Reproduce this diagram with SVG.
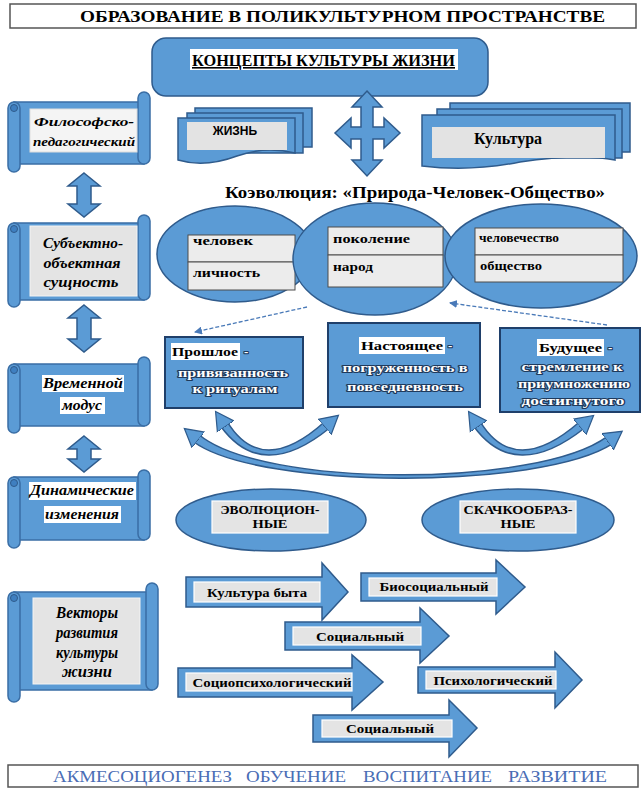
<svg xmlns="http://www.w3.org/2000/svg" width="642" height="789" viewBox="0 0 642 789">
<style>
.b{fill:#5b9bd5;stroke:#2f5b8c;stroke-width:1.5}
.bx{fill:#5b9bd5;stroke:#1f3f6a;stroke-width:2}
.sc{fill:#5b9bd5;stroke:#3a6ea5;stroke-width:1.5}
.cu{fill:#3f7fc0;stroke:#2f5b8c;stroke-width:1}
.t{font-family:"Liberation Serif","DejaVu Serif",serif;font-weight:bold;fill:#000}
.it{font-family:"Liberation Serif","DejaVu Serif",serif;font-weight:bold;font-style:italic;fill:#000}
.sn{font-family:"Liberation Sans","DejaVu Sans",sans-serif;font-weight:bold;fill:#000}
.bt{font-family:"Liberation Serif","DejaVu Serif",serif;fill:#4a6db5}
.lbl{fill:#e4e4e4;stroke:#ffffff;stroke-width:1.2}
.hl{fill:#ffffff}
.cell{fill:#ececec;stroke:#4d4d4d;stroke-width:1}
.w{fill:#ffffff;stroke:#1f3a5c;stroke-width:2.2;paint-order:stroke;stroke-linejoin:round}
.frame{fill:#ffffff;stroke:#555555;stroke-width:1.5}
</style>
<defs>
<marker id="ah" viewBox="0 0 20 22" refX="3" refY="11" markerWidth="20" markerHeight="22" markerUnits="userSpaceOnUse" orient="auto-start-reverse"><path d="M0,1 L18,11 L0,21 Z" fill="#5b9bd5" stroke="#2f5b8c" stroke-width="1.2"/></marker>
<marker id="sm" viewBox="0 0 8 8" refX="7" refY="4" markerWidth="8" markerHeight="8" markerUnits="userSpaceOnUse" orient="auto"><path d="M0,0 L8,4 L0,8 Z" fill="#4a7ab8"/></marker>
</defs>
<rect width="642" height="789" fill="#ffffff"/>

<g id="title">
<rect class="frame" x="10" y="4" width="626" height="24"/>
<text class="t" x="80" y="22" font-size="16" textLength="525" lengthAdjust="spacingAndGlyphs">ОБРАЗОВАНИЕ В ПОЛИКУЛЬТУРНОМ ПРОСТРАНСТВЕ</text>
</g>

<g id="concepts">
<rect class="b" x="152" y="38" width="336" height="58" rx="14"/>
<rect class="hl" x="190" y="49" width="268" height="21"/>
<text class="t" x="192" y="66" font-size="16" textLength="263" lengthAdjust="spacingAndGlyphs" text-decoration="underline">КОНЦЕПТЫ КУЛЬТУРЫ ЖИЗНИ</text>
</g>

<g id="zhizn">
<rect class="b" x="195" y="108" width="117" height="39"/>
<rect class="b" x="187" y="113" width="116" height="40"/>
<path class="b" d="M178,118 H295 V153 Q265,146 237,156 Q205,168 178,160 Z"/>
<rect fill="#e3e3e3" x="187" y="122" width="100" height="28"/>
<text class="sn" x="235" y="135" font-size="12" text-anchor="middle">ЖИЗНЬ</text>
</g>

<g id="kultura">
<rect class="b" x="450" y="103" width="180" height="49"/>
<rect class="b" x="437" y="109" width="185" height="49"/>
<path class="b" d="M422,115 H615 V160 Q580,153 520,162 Q470,172 422,166 Z"/>
<rect fill="#e3e3e3" x="432" y="127" width="173" height="31"/>
<text class="t" x="508" y="144" font-size="16" text-anchor="middle">Культура</text>
</g>

<g id="coevolution">
<text class="t" x="225" y="198" font-size="16" textLength="380" lengthAdjust="spacingAndGlyphs">Коэволюция: «Природа-Человек-Общество»</text>
</g>

<g id="ellipse-person">
<ellipse class="b" cx="235" cy="254" rx="78" ry="48"/>
<rect class="cell" x="188" y="235" width="107" height="27"/>
<rect class="cell" x="188" y="262" width="107" height="28"/>
<text class="t" x="193" y="245" font-size="13" textLength="60" lengthAdjust="spacingAndGlyphs">человек</text>
<text class="t" x="193" y="277" font-size="13" textLength="67" lengthAdjust="spacingAndGlyphs">личность</text>
</g>

<g id="ellipse-generation">
<ellipse class="b" cx="375" cy="259" rx="82" ry="56"/>
<rect class="cell" x="328" y="227" width="115" height="28"/>
<rect class="cell" x="328" y="255" width="115" height="32"/>
<text class="t" x="333" y="243" font-size="13" textLength="77" lengthAdjust="spacingAndGlyphs">поколение</text>
<text class="t" x="333" y="271" font-size="13" textLength="40" lengthAdjust="spacingAndGlyphs">народ</text>
</g>

<g id="ellipse-humanity">
<ellipse class="b" cx="541" cy="256" rx="96" ry="52"/>
<rect class="cell" x="475" y="228" width="148" height="27"/>
<rect class="cell" x="475" y="255" width="148" height="27"/>
<text class="t" x="479" y="242" font-size="13" textLength="80" lengthAdjust="spacingAndGlyphs">человечество</text>
<text class="t" x="480" y="270" font-size="13" textLength="62" lengthAdjust="spacingAndGlyphs">общество</text>
</g>

<g id="past">
<rect class="bx" x="165" y="337" width="138" height="71"/>
<rect class="hl" x="171" y="343" width="69" height="17"/>
<text class="t" x="172" y="356" font-size="13" textLength="66" lengthAdjust="spacingAndGlyphs">Прошлое</text>
<text class="t w" x="244" y="356" font-size="13">-</text>
<text class="t w" x="233" y="377" font-size="13" text-anchor="middle" textLength="110" lengthAdjust="spacingAndGlyphs">привязанность</text>
<text class="t w" x="235" y="393" font-size="13" text-anchor="middle" textLength="85" lengthAdjust="spacingAndGlyphs">к ритуалам</text>
</g>

<g id="present">
<rect class="bx" x="328" y="323" width="152" height="84"/>
<rect class="hl" x="359" y="337" width="86" height="17"/>
<text class="t" x="361" y="350" font-size="13" textLength="82" lengthAdjust="spacingAndGlyphs">Настоящее</text>
<text class="t w" x="448" y="350" font-size="13">-</text>
<text class="t w" x="405" y="372" font-size="13" text-anchor="middle" textLength="125" lengthAdjust="spacingAndGlyphs">погруженность в</text>
<text class="t w" x="405" y="391" font-size="13" text-anchor="middle" textLength="116" lengthAdjust="spacingAndGlyphs">повседневность</text>
</g>

<g id="future">
<rect class="bx" x="500" y="328" width="140" height="84"/>
<rect class="hl" x="537" y="339" width="67" height="17"/>
<text class="t" x="539" y="352" font-size="13" textLength="63" lengthAdjust="spacingAndGlyphs">Будущее</text>
<text class="t w" x="608" y="352" font-size="13">-</text>
<text class="t w" x="572" y="371" font-size="13" text-anchor="middle" textLength="101" lengthAdjust="spacingAndGlyphs">стремление к</text>
<text class="t w" x="574" y="388" font-size="13" text-anchor="middle" textLength="112" lengthAdjust="spacingAndGlyphs">приумножению</text>
<text class="t w" x="573" y="405" font-size="13" text-anchor="middle" textLength="103" lengthAdjust="spacingAndGlyphs">достигнутого</text>
</g>

<g id="scroll-philosophy">
<rect class="sc" x="14" y="102" width="130" height="62"/>
<rect class="sc" x="138" y="92" width="12" height="72" rx="6"/>
<rect class="sc" x="8" y="102" width="12" height="70" rx="6"/>
<circle class="cu" cx="14" cy="108" r="3.5"/>
<rect fill="#f4f4f4" stroke="#dddddd" x="30" y="109" width="107" height="43"/>
<text class="it" x="84" y="126" font-size="13" text-anchor="middle" textLength="100" lengthAdjust="spacingAndGlyphs">Философско-</text>
<text class="it" x="84" y="146" font-size="13" text-anchor="middle" textLength="102" lengthAdjust="spacingAndGlyphs">педагогический</text>
</g>

<g id="scroll-subject">
<rect class="sc" x="14" y="223" width="130" height="77"/>
<rect class="sc" x="138" y="215" width="12" height="85" rx="6"/>
<rect class="sc" x="8" y="223" width="12" height="84" rx="6"/>
<circle class="cu" cx="14" cy="229" r="3.5"/>
<rect fill="#e4e4e4" stroke="#f4f4f4" x="30" y="226" width="107" height="70"/>
<text class="it" x="83" y="248" font-size="15" text-anchor="middle" textLength="80" lengthAdjust="spacingAndGlyphs">Субъектно-</text>
<text class="it" x="82" y="268" font-size="15" text-anchor="middle" textLength="77" lengthAdjust="spacingAndGlyphs">объектная</text>
<text class="it" x="81" y="287" font-size="15" text-anchor="middle" textLength="75" lengthAdjust="spacingAndGlyphs">сущность</text>
</g>

<g id="scroll-time">
<rect class="sc" x="14" y="364" width="130" height="62"/>
<rect class="sc" x="138" y="357" width="12" height="69" rx="6"/>
<rect class="sc" x="8" y="364" width="12" height="69" rx="6"/>
<circle class="cu" cx="14" cy="370" r="3.5"/>
<rect class="hl" x="42" y="375" width="82" height="17"/>
<rect class="hl" x="60" y="397" width="45" height="17"/>
<text class="it" x="83" y="388" font-size="15" text-anchor="middle" textLength="80" lengthAdjust="spacingAndGlyphs">Временной</text>
<text class="it" x="82" y="410" font-size="15" text-anchor="middle" textLength="40" lengthAdjust="spacingAndGlyphs">модус</text>
</g>

<g id="scroll-dynamics">
<rect class="sc" x="14" y="477" width="130" height="63"/>
<rect class="sc" x="138" y="470" width="12" height="70" rx="6"/>
<rect class="sc" x="8" y="477" width="12" height="71" rx="6"/>
<circle class="cu" cx="14" cy="483" r="3.5"/>
<rect class="hl" x="29" y="482" width="107" height="18"/>
<rect class="hl" x="44" y="506" width="77" height="17"/>
<text class="it" x="82" y="495" font-size="15" text-anchor="middle" textLength="104" lengthAdjust="spacingAndGlyphs">Динамические</text>
<text class="it" x="82" y="519" font-size="15" text-anchor="middle" textLength="74" lengthAdjust="spacingAndGlyphs">изменения</text>
</g>

<g id="scroll-vectors">
<rect class="sc" x="14" y="592" width="138" height="98"/>
<rect class="sc" x="146" y="583" width="12" height="107" rx="6"/>
<rect class="sc" x="8" y="592" width="12" height="110" rx="6"/>
<circle class="cu" cx="14" cy="598" r="3.5"/>
<rect fill="#e4e4e4" stroke="#f4f4f4" x="33" y="598" width="107" height="86"/>
<text class="it" x="87" y="618" font-size="16" text-anchor="middle" textLength="62" lengthAdjust="spacingAndGlyphs">Векторы</text>
<text class="it" x="87" y="638" font-size="16" text-anchor="middle" textLength="62" lengthAdjust="spacingAndGlyphs">развития</text>
<text class="it" x="87" y="658" font-size="16" text-anchor="middle" textLength="62" lengthAdjust="spacingAndGlyphs">культуры</text>
<text class="it" x="87" y="677" font-size="16" text-anchor="middle" textLength="50" lengthAdjust="spacingAndGlyphs">жизни</text>
</g>

<g id="evolutionary">
<ellipse class="b" cx="271" cy="520" rx="95" ry="31"/>
<rect class="lbl" x="212" y="501" width="116" height="32"/>
<text class="t" x="270" y="514" font-size="12.5" text-anchor="middle" textLength="99" lengthAdjust="spacingAndGlyphs">ЭВОЛЮЦИОН-</text>
<text class="t" x="270" y="528" font-size="12.5" text-anchor="middle" textLength="35" lengthAdjust="spacingAndGlyphs">НЫЕ</text>
</g>

<g id="leaps">
<ellipse class="b" cx="518" cy="520" rx="96" ry="31"/>
<rect class="lbl" x="460" y="501" width="116" height="32"/>
<text class="t" x="518" y="514" font-size="12.5" text-anchor="middle" textLength="109" lengthAdjust="spacingAndGlyphs">СКАЧКООБРАЗ-</text>
<text class="t" x="518" y="528" font-size="12.5" text-anchor="middle" textLength="35" lengthAdjust="spacingAndGlyphs">НЫЕ</text>
</g>

<g id="arrow-culture-life">
<path class="b" d="M186,577 H322 V563 L348,592 L322,620 V607 H186 Z"/>
<rect class="lbl" x="194" y="582" width="126" height="20"/>
<text class="t" x="257" y="596.5" font-size="12.5" text-anchor="middle" textLength="100" lengthAdjust="spacingAndGlyphs">Культура быта</text>
</g>
<g id="arrow-biosocial">
<path class="b" d="M361,573 H496 V560 L525,587 L496,614 V601 H361 Z"/>
<rect class="lbl" x="369" y="578" width="128" height="18"/>
<text class="t" x="434" y="591" font-size="12.5" text-anchor="middle" textLength="109" lengthAdjust="spacingAndGlyphs">Биосоциальный</text>
</g>
<g id="arrow-social-1">
<path class="b" d="M285,622 H420 V608 L449,636 L420,663 V650 H285 Z"/>
<rect class="lbl" x="293" y="627" width="128" height="18"/>
<text class="t" x="360" y="640.5" font-size="12.5" text-anchor="middle" textLength="88" lengthAdjust="spacingAndGlyphs">Социальный</text>
</g>
<g id="arrow-sociopsych">
<path class="b" d="M178,668 H352 V655 L383,682 L352,710 V697 H178 Z"/>
<rect class="lbl" x="186" y="673" width="166" height="18"/>
<text class="t" x="272" y="686.5" font-size="12.5" text-anchor="middle" textLength="159" lengthAdjust="spacingAndGlyphs">Социопсихологический</text>
</g>
<g id="arrow-psych">
<path class="b" d="M418,667 H555 V652 L582,680 L555,708 V693 H418 Z"/>
<rect class="lbl" x="426" y="671" width="130" height="18"/>
<text class="t" x="493" y="684.5" font-size="12.5" text-anchor="middle" textLength="119" lengthAdjust="spacingAndGlyphs">Психологический</text>
</g>
<g id="arrow-social-2">
<path class="b" d="M313,715 H449 V700 L477,728 L449,757 V742 H313 Z"/>
<rect class="lbl" x="322" y="720" width="130" height="17"/>
<text class="t" x="390" y="733" font-size="12.5" text-anchor="middle" textLength="88" lengthAdjust="spacingAndGlyphs">Социальный</text>
</g>

<g id="bottom">
<rect class="frame" x="8" y="765" width="630" height="22"/>
<text class="bt" font-size="17" y="782"><tspan x="53" textLength="179" lengthAdjust="spacingAndGlyphs">АКМЕСОЦИОГЕНЕЗ</tspan><tspan x="246" textLength="100" lengthAdjust="spacingAndGlyphs">ОБУЧЕНИЕ</tspan><tspan x="363" textLength="129" lengthAdjust="spacingAndGlyphs">ВОСПИТАНИЕ</tspan><tspan x="508" textLength="99" lengthAdjust="spacingAndGlyphs">РАЗВИТИЕ</tspan></text>
</g>

<g id="connectors">
<polygon class="b" points="367,91 382,107 373,107 373,127 384,127 384,118 400,133 384,148 384,139 373,139 373,160 382,160 367,176 352,160 361,160 361,139 351,139 351,148 335,133 351,118 351,127 361,127 361,107 352,107"/>
<polygon class="b" points="84,173 100,186 91,186 91,204 100,204 84,217 68,204 77,204 77,186 68,186"/>
<polygon class="b" points="84,305 100,318 91,318 91,339 100,339 84,352 68,339 77,339 77,318 68,318"/>
<polygon class="b" points="84,436 100,449 91,449 91,459 100,459 84,472 68,459 77,459 77,449 68,449"/>
<path d="M307,307 L195,332" fill="none" stroke="#4a7ab8" stroke-width="1.3" stroke-dasharray="4,2" marker-end="url(#sm)"/>
<path d="M607,325 L450,303" fill="none" stroke="#4a7ab8" stroke-width="1.3" stroke-dasharray="4,2" marker-end="url(#sm)"/>
<path class="b" d="M198.8,434.5 C262,488 538,488 607.4,436.3 L612.6,443.7 C542,490 258,490 193.2,441.5 Z" stroke-width="1.2"/>
<path d="M196,438 C260,490 540,490 610,440" fill="none" stroke="none" marker-start="url(#ah)" marker-end="url(#ah)"/>
<path class="b" d="M227.3,421.8 Q262,478 324.4,422 L329.6,428 Q262,483 220.7,426.2 Z" stroke-width="1.2"/>
<path d="M224,424 Q262,480 327,425" fill="none" stroke="none" marker-start="url(#ah)" marker-end="url(#ah)"/>
<path class="b" d="M480.3,421.8 Q515,478 579.4,422 L584.6,428 Q515,483 473.7,426.2 Z" stroke-width="1.2"/>
<path d="M477,424 Q515,480 582,425" fill="none" stroke="none" marker-start="url(#ah)" marker-end="url(#ah)"/>
</g>
</svg>
